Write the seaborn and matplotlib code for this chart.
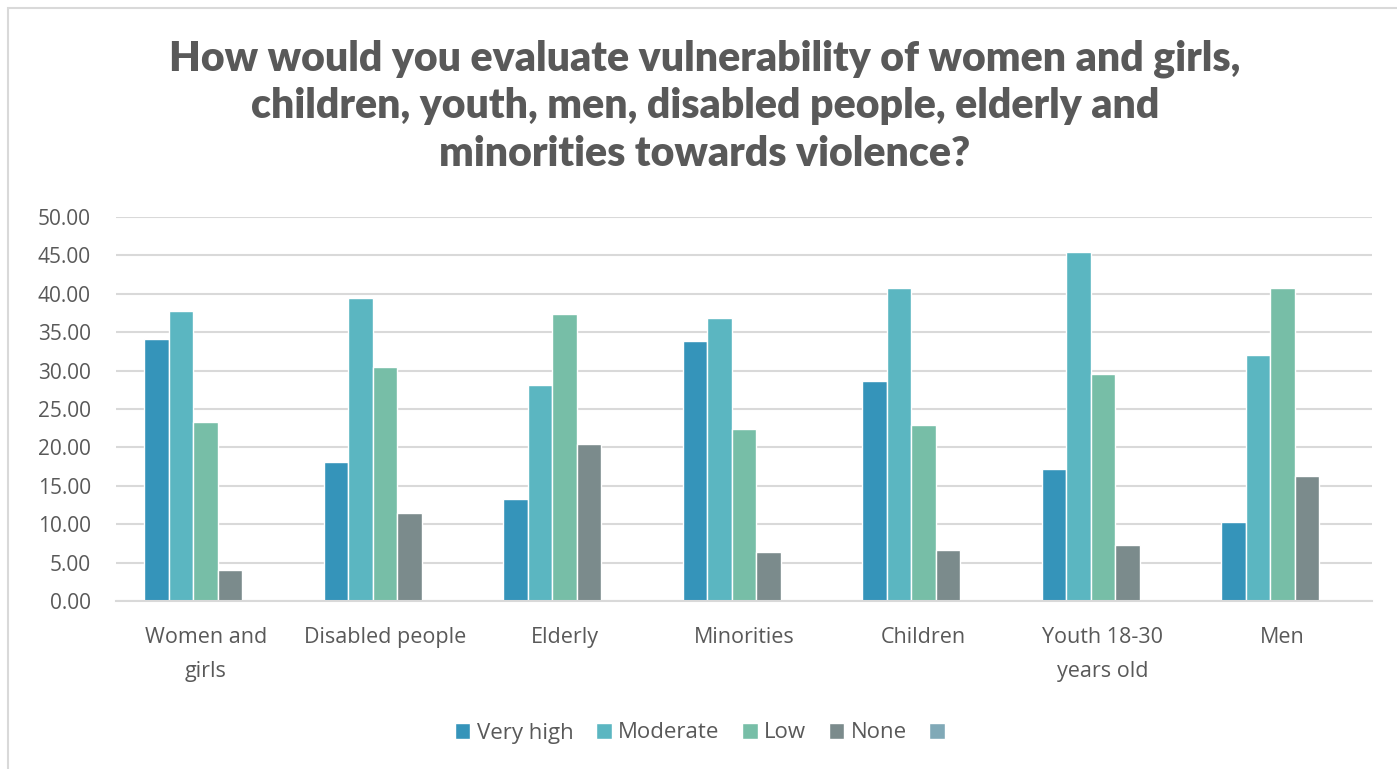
import matplotlib
matplotlib.use("Agg")
import matplotlib.pyplot as plt
from matplotlib.patches import Rectangle
import seaborn as sns
import pandas as pd

groups = ["Women and\ngirls", "Disabled people", "Elderly", "Minorities",
          "Children", "Youth 18-30\nyears old", "Men"]
levels = ["Very high", "Moderate", "Low", "None", " "]
very_high = [34.1, 18.1, 13.3, 33.8, 28.7, 17.2, 10.3]
moderate = [37.7, 39.5, 28.1, 36.8, 40.7, 45.5, 32.0]
low = [23.3, 30.5, 37.4, 22.4, 22.9, 29.6, 40.7]
none = [4.0, 11.5, 20.5, 6.4, 6.7, 7.3, 16.3]
blank = [0, 0, 0, 0, 0, 0, 0]

colors = ["#3594BA", "#5BB6C1", "#77BEA7", "#7B8B8C", "#80A9B7"]
title = ("How would you evaluate vulnerability of women and girls,\n"
         "children, youth, men, disabled people, elderly and\n"
         "minorities towards violence?")

rows = []
for lvl, vals in zip(levels, [very_high, moderate, low, none, blank]):
    for g, v in zip(groups, vals):
        rows.append({"group": g, "level": lvl, "value": v})
df = pd.DataFrame(rows)

sns.set_theme(style="white")
plt.rcParams["font.family"] = ["Open Sans", "DejaVu Sans"]
text_c = "#595959"

W, H = 1397, 769
fig = plt.figure(figsize=(W / 100, H / 100), dpi=100)
fig.patch.set_facecolor("white")
fig.patches.append(Rectangle((8 / W, -0.1), 1.2, (1 - 8 / H) + 0.1,
                             transform=fig.transFigure, fill=False,
                             edgecolor="#D9D9D9", linewidth=1.5))

ax = fig.add_axes([116 / W, 1 - 601 / H, (1372 - 116) / W, (601 - 217) / H])
sns.barplot(data=df, x="group", y="value", hue="level", hue_order=levels,
            order=groups, palette=colors, saturation=1, width=0.683,
            ax=ax, legend=True)

ax.set_ylim(0, 50)
ax.set_yticks([i * 5 for i in range(11)])
ax.set_yticklabels([f"{i * 5:.2f}" for i in range(11)])
ax.yaxis.grid(True, color="#D9D9D9", linewidth=1.5)
ax.set_axisbelow(True)
for s in ["top", "right", "left"]:
    ax.spines[s].set_visible(False)
ax.spines["bottom"].set_color("#D9D9D9")
ax.spines["bottom"].set_linewidth(1.5)
ax.tick_params(axis="both", length=0, colors=text_c)
ax.tick_params(axis="x", pad=19, labelsize=15.5)
ax.tick_params(axis="y", pad=18, labelsize=15)
for lab in ax.get_xticklabels():
    lab.set_linespacing(1.8)
ax.set_xlabel("")
ax.set_ylabel("")

handles, labels = ax.get_legend_handles_labels()
ax.get_legend().remove()
fig.legend(handles, labels, loc="center", bbox_to_anchor=(706 / W, 1 - 733 / H),
           ncol=5, frameon=False, fontsize=16, labelcolor=text_c,
           handlelength=0.7, handleheight=0.7, handletextpad=0.3,
           columnspacing=1.0)

fig.text(705 / W, 1 - 106 / H, title, ha="center", va="center",
         fontsize=29.5, fontweight="heavy", color=text_c,
         family=["Lato", "DejaVu Sans"], linespacing=1.3)

fig.savefig("out.png", dpi=100)
